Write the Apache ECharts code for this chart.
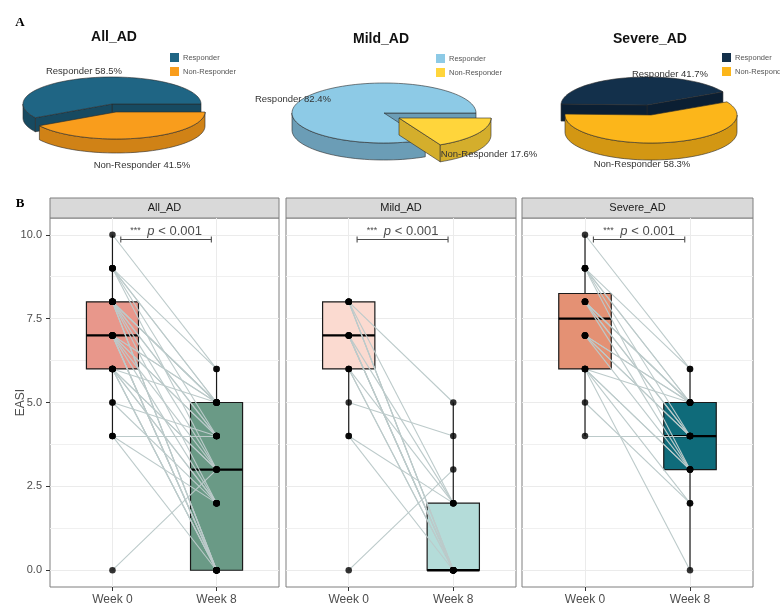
<!DOCTYPE html>
<html>
<head>
<meta charset="utf-8">
<script src="https://cdn.jsdelivr.net/npm/echarts@6/dist/echarts.min.js"></script>
<style>
  html, body { margin: 0; padding: 0; background: #fff; }
  #chart { width: 780px; height: 606px; }
</style>
</head>
<body>
<div id="chart"></div>
<script>
// ---- data -------------------------------------------------------------
const cohortNames = ['All_AD', 'Mild_AD', 'Severe_AD'];
const responseClasses = ['Responder', 'Non-Responder'];

// share of responders / non-responders (%)
const shareAll = [58.5, 41.5];
const shareMild = [82.4, 17.6];
const shareSevere = [41.7, 58.3];

const weekLabels = ['Week 0', 'Week 8'];
const yTickValues = [0, 2.5, 5, 7.5, 10];
const yMinorValues = [1.25, 3.75, 6.25, 8.75];

// paired EASI scores, one entry per patient
const mildWeek0 = [0, 4, 4, 5, 8, 6, 6, 6, 7, 7, 7, 7, 7, 8, 8, 8, 8];
const mildWeek8 = [3, 2, 0, 4, 5, 0, 0, 2, 0, 0, 0, 2, 0, 0, 0, 2, 0];
const severeWeek0 = [10, 9, 9, 9, 9, 9, 8, 8, 8, 8, 8, 8, 7, 7, 7, 7, 7, 6, 6, 6, 6, 6, 5, 4];
const severeWeek8 = [6, 6, 5, 5, 4, 3, 5, 5, 4, 4, 3, 5, 5, 4, 4, 3, 5, 5, 3, 2, 0, 3, 2, 4];
const allWeek0 = mildWeek0.concat(severeWeek0);
const allWeek8 = mildWeek8.concat(severeWeek8);

const pValueText = 'p < 0.001';
const sigStars = '***';

// ---- styling ----------------------------------------------------------
const FONT = '"Liberation Sans", Arial, sans-serif';
const panelLayout = [
  { left: 50, width: 229 },
  { left: 286, width: 230 },
  { left: 522, width: 231 }
];
const PANEL_TOP = 218, PANEL_H = 370, STRIP_H = 20;
const boxFills = [
  ['#E8978B', '#6A9A86'],
  ['#FBDAD0', '#B4DCD9'],
  ['#E49174', '#0F6B7A']
];
const BOX_HALF = 0.25;
const BRACKET = { from: 1.08, to: 1.95, y: 9.86 };

const pieLayouts = [
  { cx: 112, cy: 104, rx: 89, ry: 27, depth: 14, start: 0, explode: [4, 8],
    labels: [[84, 71], [142, 165]], legend: [170, 53], title: [114, 37] },
  { cx: 384, cy: 113, rx: 92, ry: 30, depth: 17, start: 0, explode: [15, 5],
    labels: [[293, 99], [489, 154]], legend: [436, 54], title: [381, 39] },
  { cx: 647, cy: 105, rx: 86, ry: 28, depth: 17, start: 28, explode: [4, 10],
    labels: [[670, 74], [642, 164]], legend: [722, 53], title: [650, 39] }
];
const pieColors = [
  [['#1F6584', '#174A61'], ['#F99D1C', '#D08216']],
  [['#8DCAE6', '#6B9DB6'], ['#FFD53B', '#D4AE2C']],
  [['#13304B', '#0B1F33'], ['#FCB61A', '#D39713']]
];
const pieShares = [shareAll, shareMild, shareSevere];

// ---- helpers ----------------------------------------------------------
function quantile7(sorted, p) {
  const h = (sorted.length - 1) * p;
  const lo = Math.floor(h);
  const hi = Math.min(lo + 1, sorted.length - 1);
  return sorted[lo] + (h - lo) * (sorted[hi] - sorted[lo]);
}
// box statistics with whiskers reaching the most extreme value within 1.5 IQR
function boxStats(values) {
  const s = values.slice().sort((a, b) => a - b);
  const q1 = quantile7(s, 0.25), med = quantile7(s, 0.5), q3 = quantile7(s, 0.75);
  const iqr = q3 - q1;
  const inside = s.filter(v => v >= q1 - 1.5 * iqr && v <= q3 + 1.5 * iqr);
  return [inside[0], q1, med, q3, inside[inside.length - 1]];
}

function renderBox(params, api) {
  const x = api.value(0);
  const lo = api.value(1), q1 = api.value(2), med = api.value(3), q3 = api.value(4), hi = api.value(5);
  const pLo = api.coord([x, lo]), pHi = api.coord([x, hi]);
  const tl = api.coord([x - BOX_HALF, q3]), br = api.coord([x + BOX_HALF, q1]);
  const ml = api.coord([x - BOX_HALF, med]), mr = api.coord([x + BOX_HALF, med]);
  const stroke = '#1a1a1a';
  return {
    type: 'group',
    children: [
      { type: 'line', shape: { x1: pLo[0], y1: pLo[1], x2: pLo[0], y2: br[1] }, style: { stroke, lineWidth: 1.2 } },
      { type: 'line', shape: { x1: pHi[0], y1: pHi[1], x2: pHi[0], y2: tl[1] }, style: { stroke, lineWidth: 1.2 } },
      { type: 'rect', shape: { x: tl[0], y: tl[1], width: br[0] - tl[0], height: br[1] - tl[1] },
        style: { fill: api.visual('color'), stroke, lineWidth: 1.2 } },
      { type: 'line', shape: { x1: ml[0], y1: ml[1], x2: mr[0], y2: mr[1] }, style: { stroke: '#000', lineWidth: 2.3 } }
    ]
  };
}

function renderBracket(params, api) {
  const a = api.coord([api.value(0), api.value(2)]);
  const b = api.coord([api.value(1), api.value(2)]);
  const col = '#4d4d4d';
  return {
    type: 'group',
    children: [
      { type: 'line', shape: { x1: a[0], y1: a[1], x2: b[0], y2: b[1] }, style: { stroke: col, lineWidth: 1.1 } },
      { type: 'line', shape: { x1: a[0], y1: a[1] - 3, x2: a[0], y2: a[1] + 3 }, style: { stroke: col, lineWidth: 1.1 } },
      { type: 'line', shape: { x1: b[0], y1: b[1] - 3, x2: b[0], y2: b[1] + 3 }, style: { stroke: col, lineWidth: 1.1 } },
      { type: 'text', x: (a[0] + b[0]) / 2, y: a[1] - 2,
        style: {
          text: '{s|' + sigStars + '}  {i|' + pValueText.slice(0, 1) + '}{n|' + pValueText.slice(1) + '}',
          align: 'center', verticalAlign: 'bottom',
          rich: {
            s: { fontSize: 9, fill: col, fontFamily: FONT },
            i: { fontSize: 13, fill: col, fontStyle: 'italic', fontFamily: FONT },
            n: { fontSize: 13, fill: col, fontFamily: FONT }
          }
        } }
    ]
  };
}

// 3-D looking pie slice: top face, visible outer wall and visible cut walls
function makePieRenderer(pieIdx) {
  const L = pieLayouts[pieIdx];
  const shares = pieShares[pieIdx];
  const total = shares.reduce((s, v) => s + v, 0);
  return function (params, api) {
    const i = params.dataIndex;
    let a0 = L.start;
    for (let k = 0; k < i; k++) a0 += shares[k] / total * 360;
    const a1 = a0 + api.value(0) / total * 360;
    const off = i === 1 ? L.explode : [0, 0];
    const cx = L.cx + off[0], cy = L.cy + off[1];
    const pt = (deg, dy) => {
      const r = deg * Math.PI / 180;
      return [cx + L.rx * Math.cos(r), cy - L.ry * Math.sin(r) + (dy || 0)];
    };
    const arc = (from, to, dy) => {
      const n = Math.max(2, Math.ceil((to - from) / 3));
      const out = [];
      for (let k = 0; k <= n; k++) out.push(pt(from + (to - from) * k / n, dy));
      return out;
    };
    const [topCol, sideCol] = pieColors[pieIdx][i];
    const edge = { stroke: '#2a2a2a', lineWidth: 0.6 };
    const base = i * 10;
    const children = [];
    const d = L.depth;
    // cut walls
    const cutWall = (deg) => {
      const e = pt(deg);
      return { type: 'polygon', z2: base + 1,
        shape: { points: [[cx, cy], e, [e[0], e[1] + d], [cx, cy + d]] },
        style: Object.assign({ fill: sideCol }, edge) };
    };
    if (Math.cos(a0 * Math.PI / 180) > 0.001) children.push(cutWall(a0));
    if (Math.cos(a1 * Math.PI / 180) < -0.001) children.push(cutWall(a1));
    // outer wall, only the half facing the viewer
    [180, 540].forEach(k => {
      const lo = Math.max(a0, k), hi = Math.min(a1, k + 180);
      if (hi > lo) {
        const top = arc(lo, hi, 0);
        const bot = arc(lo, hi, d).reverse();
        children.push({ type: 'polygon', z2: base + 2, shape: { points: top.concat(bot) },
          style: Object.assign({ fill: sideCol }, edge) });
      }
    });
    // top face
    children.push({ type: 'polygon', z2: base + 3, shape: { points: [[cx, cy]].concat(arc(a0, a1, 0)) },
      style: Object.assign({ fill: topCol }, edge) });
    // slice label
    const lp = L.labels[i];
    children.push({ type: 'text', z2: 50, x: lp[0], y: lp[1],
      style: { text: responseClasses[i] + ' ' + api.value(0) + '%', fill: '#333', fontSize: 9.5,
        fontFamily: FONT, align: 'center', verticalAlign: 'middle' } });
    // legend key
    const lg = L.legend;
    children.push({ type: 'rect', z2: 50, shape: { x: lg[0], y: lg[1] + i * 14, width: 9, height: 9 }, style: { fill: topCol } });
    children.push({ type: 'text', z2: 50, x: lg[0] + 13, y: lg[1] + i * 14 + 4.5,
      style: { text: responseClasses[i], fill: '#555', fontSize: 7.5, fontFamily: FONT, verticalAlign: 'middle' } });
    return { type: 'group', children };
  };
}

// ---- option -----------------------------------------------------------
const panelData = [
  [allWeek0, allWeek8],
  [mildWeek0, mildWeek8],
  [severeWeek0, severeWeek8]
];

const grids = panelLayout.map(p => ({
  left: p.left, top: PANEL_TOP, width: p.width, height: PANEL_H,
  show: true, backgroundColor: '#fff', borderColor: '#7f7f7f', borderWidth: 1
}));

const xAxes = panelLayout.map((p, i) => ({
  type: 'value', gridIndex: i, min: 0.4, max: 2.6, position: 'bottom',
  axisLine: { show: false, onZero: false },
  axisTick: { show: true, customValues: [1, 2], length: 4, lineStyle: { color: '#333' } },
  axisLabel: { customValues: [1, 2], formatter: v => weekLabels[Math.round(v) - 1],
    color: '#4d4d4d', fontSize: 12, margin: 7, fontFamily: FONT },
  splitLine: { show: true, lineStyle: { color: '#ebebeb', width: 1 } }
}));

const yMain = panelLayout.map((p, i) => ({
  type: 'value', gridIndex: i, min: -0.5, max: 10.5, position: 'left',
  axisLine: { show: false, onZero: false },
  name: i === 0 ? 'EASI' : '', nameLocation: 'middle', nameGap: 23, nameRotate: 90,
  nameMoveOverlap: false,
  nameTextStyle: { color: '#4d4d4d', fontSize: 12, fontFamily: FONT },
  axisTick: { show: i === 0, customValues: yTickValues, length: 4, lineStyle: { color: '#333' } },
  axisLabel: { show: i === 0, customValues: yTickValues, formatter: v => v.toFixed(1),
    color: '#4d4d4d', fontSize: 11, margin: 8, fontFamily: FONT },
  splitLine: { show: true, lineStyle: { color: '#ebebeb', width: 1 } }
}));
const yMinor = panelLayout.map((p, i) => ({
  type: 'value', gridIndex: i, min: -0.5, max: 10.5,
  axisLine: { show: false, onZero: false },
  axisTick: { show: false, customValues: yMinorValues },
  axisLabel: { show: false },
  splitLine: { show: true, lineStyle: { color: '#f0f0f0', width: 1 } }
}));

const series = [];
panelData.forEach(([w0, w8], i) => {
  series.push({
    type: 'custom', xAxisIndex: i, yAxisIndex: i, z: 2, silent: true,
    renderItem: renderBox,
    data: [
      { value: [1].concat(boxStats(w0)), itemStyle: { color: boxFills[i][0] } },
      { value: [2].concat(boxStats(w8)), itemStyle: { color: boxFills[i][1] } }
    ]
  });
  series.push({
    type: 'lines', coordinateSystem: 'cartesian2d', xAxisIndex: i, yAxisIndex: i, z: 3, silent: true,
    lineStyle: { color: '#bccaca', width: 1.1, opacity: 1 },
    data: w0.map((v, k) => ({ coords: [[1, v], [2, w8[k]]] }))
  });
  series.push({
    type: 'scatter', xAxisIndex: i, yAxisIndex: i, z: 4, silent: true,
    symbolSize: 6.5, itemStyle: { color: '#000' },
    data: w0.map(v => [1, v]).concat(w8.map(v => [2, v]))
  });
  series.push({
    type: 'custom', xAxisIndex: i, yAxisIndex: i, z: 5, silent: true,
    renderItem: renderBracket,
    data: [[BRACKET.from, BRACKET.to, BRACKET.y]]
  });
});
pieShares.forEach((shares, i) => {
  series.push({
    type: 'custom', coordinateSystem: 'none', silent: true, z: 6,
    renderItem: makePieRenderer(i),
    data: shares.map((v, k) => ({ value: v, name: responseClasses[k] }))
  });
});

// panel strips, pie titles and figure panel letters
const graphics = [];
panelLayout.forEach((p, i) => {
  graphics.push({ type: 'rect', shape: { x: p.left, y: PANEL_TOP - STRIP_H, width: p.width, height: STRIP_H },
    style: { fill: '#d9d9d9', stroke: '#7f7f7f', lineWidth: 1 } });
  graphics.push({ type: 'text', x: p.left + p.width / 2, y: PANEL_TOP - STRIP_H / 2,
    style: { text: cohortNames[i], fill: '#1a1a1a', fontSize: 11, fontFamily: FONT, align: 'center', verticalAlign: 'middle' } });
});
pieLayouts.forEach((L, i) => {
  graphics.push({ type: 'text', x: L.title[0], y: L.title[1],
    style: { text: cohortNames[i], fill: '#111', fontSize: 14, fontWeight: 'bold', fontFamily: FONT,
      align: 'center', verticalAlign: 'middle' } });
});
graphics.push({ type: 'text', x: 20, y: 23, style: { text: 'A', fill: '#000', fontSize: 13, fontWeight: 'bold',
  fontFamily: '"Liberation Serif", "DejaVu Serif", serif', align: 'center', verticalAlign: 'middle' } });
graphics.push({ type: 'text', x: 20, y: 204, style: { text: 'B', fill: '#000', fontSize: 13, fontWeight: 'bold',
  fontFamily: '"Liberation Serif", "DejaVu Serif", serif', align: 'center', verticalAlign: 'middle' } });

const chart = echarts.init(document.getElementById('chart'));
chart.setOption({
  animation: false,
  backgroundColor: '#fff',
  textStyle: { fontFamily: FONT },
  grid: grids,
  xAxis: xAxes,
  yAxis: yMain.concat(yMinor),
  graphic: graphics,
  series
});
</script>
</body>
</html>
